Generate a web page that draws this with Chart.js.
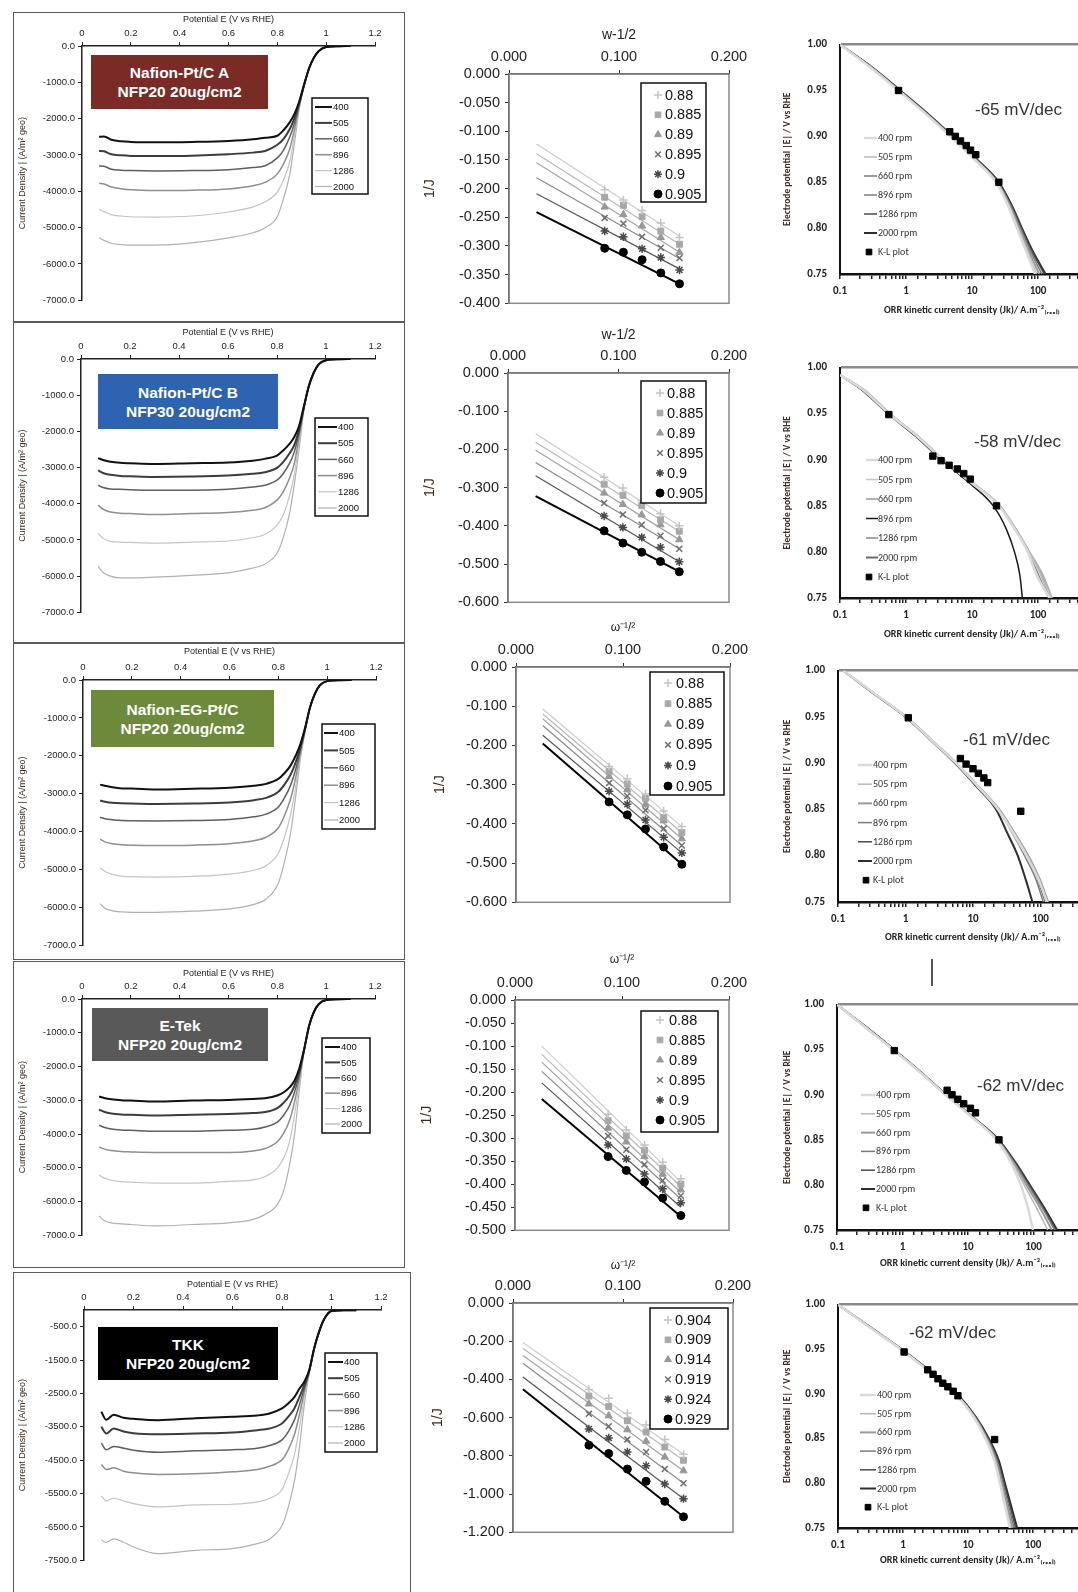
<!DOCTYPE html>
<html>
<head>
<meta charset="utf-8">
<title>ORR rotating disk analysis</title>
<script src="https://cdn.jsdelivr.net/npm/chart.js@4.4.1/dist/chart.umd.min.js"></script>
<style>
  html, body { margin: 0; padding: 0; background: #fff; }
  body { position: relative; width: 1078px; height: 1592px; overflow: hidden; font-family: "Liberation Sans", Arial, sans-serif; }
  canvas { position: absolute; }
  .frame { position: absolute; border: 1.5px solid #5a5a5a; box-sizing: border-box; }
  .tag { position: absolute; color: #fff; font-weight: bold; font-size: 15.5px; line-height: 19px; text-align: center;
         display: flex; flex-direction: column; justify-content: center; }
  .slope { position: absolute; font-size: 17px; color: #333; white-space: nowrap; line-height: 20px; }
</style>
</head>
<body>
<div class="frame" style="left:13px;top:12px;width:392px;height:311px"></div>
<div class="frame" style="left:13px;top:321px;width:392px;height:322px"></div>
<div class="frame" style="left:13px;top:643px;width:392px;height:317px"></div>
<div class="frame" style="left:13px;top:961px;width:392px;height:307px"></div>
<div class="frame" style="left:13px;top:1272px;width:398px;height:340px"></div>

<div class="tag" style="left:91px;top:55px;width:177px;height:54px;background:#7a2b25">Nafion-Pt/C A<br>NFP20 20ug/cm2</div>
<div class="tag" style="left:98px;top:374px;width:180px;height:55px;background:#2e63b1">Nafion-Pt/C B<br>NFP30 20ug/cm2</div>
<div class="tag" style="left:91px;top:690px;width:183px;height:57px;background:#6c8a3a">Nafion-EG-Pt/C<br>NFP20 20ug/cm2</div>
<div class="tag" style="left:92px;top:1008px;width:176px;height:53px;background:#595959">E-Tek<br>NFP20 20ug/cm2</div>
<div class="tag" style="left:98px;top:1327px;width:180px;height:53px;background:#000">TKK<br>NFP20 20ug/cm2</div>

<div style="position:absolute;left:931px;top:959px;width:1.5px;height:27px;background:#555"></div>

<script>
// rotation rates (rpm)
const RPM = [400, 505, 660, 896, 1286, 2000];

// ---- linear sweep voltammetry, current density (A/m2 geo) vs potential (V vs RHE)
const LSV_E = [0.07, 0.09, 0.12, 0.16, 0.2, 0.3, 0.45, 0.6, 0.7, 0.75, 0.8, 0.825, 0.85, 0.87, 0.89, 0.91, 0.93, 0.95, 0.97, 1.0, 1.05, 1.1];
const LSV_A = [
  [-2500, -2490, -2580, -2625, -2640, -2650, -2640, -2615, -2570, -2525, -2470, -2320, -2110, -1870, -1520, -1050, -620, -320, -140, -25, -5, -3],
  [-2890, -2900, -2980, -3010, -3025, -3030, -3020, -2980, -2935, -2890, -2720, -2560, -2300, -1990, -1560, -1060, -615, -318, -138, -25, -5, -3],
  [-3300, -3310, -3390, -3420, -3430, -3440, -3430, -3405, -3345, -3295, -3080, -2870, -2520, -2130, -1600, -1070, -610, -316, -137, -25, -5, -3],
  [-3780, -3800, -3880, -3930, -3960, -3980, -3970, -3935, -3845, -3755, -3520, -3250, -2850, -2300, -1640, -1080, -605, -314, -136, -25, -5, -3],
  [-4500, -4560, -4640, -4680, -4700, -4710, -4680, -4570, -4430, -4290, -4020, -3690, -3200, -2480, -1680, -1090, -600, -312, -135, -25, -5, -3],
  [-5280, -5350, -5430, -5470, -5480, -5480, -5420, -5280, -5140, -5000, -4700, -4200, -3560, -2680, -1720, -1100, -595, -310, -134, -25, -5, -3]
];
const LSV_B = [
  [-2740, -2790, -2840, -2870, -2880, -2900, -2880, -2860, -2810, -2760, -2670, -2530, -2350, -2160, -1850, -1300, -750, -380, -150, -35, -5, -3],
  [-3080, -3150, -3200, -3230, -3240, -3260, -3250, -3220, -3170, -3130, -3010, -2850, -2620, -2390, -1950, -1320, -748, -378, -149, -35, -5, -3],
  [-3490, -3550, -3590, -3600, -3610, -3630, -3630, -3600, -3540, -3490, -3350, -3170, -2900, -2580, -2040, -1340, -745, -376, -148, -35, -5, -3],
  [-4040, -4150, -4230, -4260, -4270, -4300, -4270, -4240, -4180, -4110, -3900, -3680, -3310, -2900, -2160, -1360, -742, -374, -147, -35, -5, -3],
  [-4820, -4950, -5040, -5060, -5070, -5090, -5060, -5030, -4940, -4850, -4590, -4310, -3810, -3220, -2300, -1380, -740, -372, -146, -35, -5, -3],
  [-5730, -5900, -6000, -6050, -6050, -6030, -5980, -5910, -5780, -5670, -5370, -4950, -4310, -3490, -2500, -1400, -738, -370, -145, -35, -5, -3]
];
const LSV_EG = [
  [-2760, -2790, -2830, -2860, -2865, -2890, -2870, -2840, -2790, -2740, -2610, -2460, -2260, -2010, -1700, -1250, -720, -360, -140, -30, -5, -3],
  [-3180, -3210, -3240, -3255, -3260, -3270, -3260, -3230, -3170, -3110, -2950, -2760, -2500, -2190, -1780, -1270, -718, -358, -139, -30, -5, -3],
  [-3620, -3660, -3690, -3710, -3715, -3720, -3710, -3680, -3610, -3540, -3350, -3110, -2780, -2380, -1850, -1290, -716, -356, -138, -30, -5, -3],
  [-4200, -4270, -4320, -4350, -4360, -4370, -4360, -4320, -4240, -4150, -3900, -3580, -3140, -2600, -1930, -1310, -714, -354, -137, -30, -5, -3],
  [-4950, -5050, -5130, -5180, -5190, -5200, -5180, -5120, -5020, -4900, -4570, -4150, -3560, -2850, -2010, -1330, -712, -352, -136, -30, -5, -3],
  [-5900, -6020, -6090, -6120, -6130, -6130, -6100, -6040, -5920, -5780, -5360, -4800, -4050, -3130, -2100, -1350, -710, -350, -135, -30, -5, -3]
];
const LSV_ETEK = [
  [-2890, -2930, -2970, -3000, -3010, -3040, -3010, -2990, -2960, -2940, -2860, -2770, -2620, -2420, -2050, -1480, -800, -380, -150, -30, -5, -3],
  [-3280, -3340, -3390, -3420, -3430, -3450, -3430, -3410, -3380, -3350, -3230, -3080, -2860, -2570, -2150, -1490, -798, -378, -149, -30, -5, -3],
  [-3740, -3800, -3850, -3880, -3890, -3920, -3920, -3890, -3860, -3790, -3650, -3450, -3160, -2770, -2250, -1500, -796, -376, -148, -30, -5, -3],
  [-4380, -4440, -4490, -4520, -4530, -4545, -4545, -4545, -4500, -4430, -4230, -3990, -3600, -3060, -2350, -1510, -794, -374, -147, -30, -5, -3],
  [-5210, -5300, -5370, -5410, -5425, -5455, -5455, -5400, -5360, -5260, -5010, -4720, -4230, -3450, -2500, -1520, -792, -372, -146, -30, -5, -3],
  [-6430, -6560, -6630, -6660, -6680, -6720, -6680, -6630, -6530, -6380, -6090, -5700, -4920, -4040, -2700, -1530, -790, -370, -145, -30, -5, -3]
];
const LSV_TKK = [
  [-3050, -3290, -3140, -3230, -3260, -3300, -3240, -3200, -3160, -3100, -2950, -2800, -2610, -2360, -2150, -1800, -1150, -650, -280, -30, -10, -10],
  [-3500, -3700, -3550, -3640, -3690, -3720, -3700, -3670, -3600, -3550, -3400, -3200, -2950, -2610, -2250, -1820, -1148, -648, -279, -30, -10, -10],
  [-3990, -4190, -4090, -4140, -4200, -4260, -4220, -4190, -4140, -4060, -3890, -3650, -3300, -2850, -2350, -1840, -1146, -646, -278, -30, -10, -10],
  [-4630, -4780, -4730, -4830, -4880, -4930, -4910, -4850, -4780, -4680, -4490, -4190, -3740, -3150, -2450, -1860, -1144, -644, -277, -30, -10, -10],
  [-5570, -5720, -5640, -5720, -5800, -5900, -5840, -5820, -5750, -5640, -5380, -4930, -4340, -3550, -2600, -1880, -1142, -642, -276, -30, -10, -10],
  [-6890, -6960, -6860, -6960, -7100, -7300, -7200, -7150, -7000, -6860, -6460, -5920, -5130, -4140, -2850, -1900, -1140, -640, -275, -30, -10, -10]
];
const TKK_YTICKS = [-500, -1500, -2500, -3500, -4500, -5500, -6500, -7500];

// ---- Koutecky-Levich, 1/J vs w^-1/2
const KL_W = [0.087, 0.104, 0.121, 0.138, 0.155];
const KL_W5 = [0.069, 0.087, 0.104, 0.121, 0.138, 0.155];
const FIT_W = [0.025, 0.155];
const FIT_W5 = [0.009, 0.155];
const KL_POT = ['0.88', '0.885', '0.89', '0.895', '0.9', '0.905'];
const KL_POT5 = ['0.904', '0.909', '0.914', '0.919', '0.924', '0.929'];
const KL_A = [
  [-0.202, -0.220, -0.238, -0.260, -0.285],
  [-0.215, -0.229, -0.249, -0.274, -0.297],
  [-0.232, -0.245, -0.265, -0.285, -0.311],
  [-0.251, -0.261, -0.284, -0.303, -0.321],
  [-0.274, -0.284, -0.305, -0.320, -0.342],
  [-0.304, -0.311, -0.324, -0.347, -0.366]
];
const KL_A_FIT = [[-0.122, -0.283], [-0.139, -0.297], [-0.155, -0.311], [-0.181, -0.322], [-0.209, -0.340], [-0.241, -0.366]];
const KL_B = [
  [-0.273, -0.301, -0.334, -0.368, -0.400],
  [-0.291, -0.320, -0.347, -0.384, -0.414],
  [-0.314, -0.344, -0.371, -0.397, -0.436],
  [-0.340, -0.370, -0.397, -0.426, -0.460],
  [-0.374, -0.404, -0.430, -0.456, -0.494],
  [-0.413, -0.445, -0.469, -0.493, -0.520]
];
const KL_B_FIT = [[-0.159, -0.400], [-0.181, -0.414], [-0.202, -0.436], [-0.234, -0.460], [-0.269, -0.494], [-0.322, -0.520]];
const KL_EG = [
  [-0.254, -0.285, -0.324, -0.367, -0.407],
  [-0.267, -0.298, -0.335, -0.384, -0.422],
  [-0.279, -0.313, -0.350, -0.392, -0.438],
  [-0.296, -0.329, -0.365, -0.412, -0.455],
  [-0.317, -0.350, -0.390, -0.434, -0.474],
  [-0.344, -0.377, -0.413, -0.459, -0.503]
];
const KL_EG_FIT = [[-0.107, -0.407], [-0.120, -0.422], [-0.132, -0.438], [-0.149, -0.455], [-0.174, -0.474], [-0.195, -0.503]];
const KL_ETEK = [
  [-0.248, -0.282, -0.315, -0.352, -0.388],
  [-0.262, -0.295, -0.326, -0.365, -0.400],
  [-0.278, -0.308, -0.340, -0.378, -0.412],
  [-0.295, -0.325, -0.357, -0.392, -0.425],
  [-0.315, -0.345, -0.378, -0.410, -0.440],
  [-0.340, -0.370, -0.395, -0.430, -0.468]
];
const KL_ETEK_FIT = [[-0.100, -0.395], [-0.118, -0.405], [-0.135, -0.418], [-0.155, -0.432], [-0.180, -0.450], [-0.215, -0.470]];
const KL_TKK = [
  [-0.453, -0.499, -0.577, -0.637, -0.714, -0.792],
  [-0.487, -0.542, -0.616, -0.675, -0.754, -0.823],
  [-0.528, -0.590, -0.663, -0.723, -0.806, -0.878],
  [-0.580, -0.645, -0.714, -0.780, -0.869, -0.943],
  [-0.659, -0.706, -0.780, -0.852, -0.947, -1.024],
  [-0.744, -0.788, -0.869, -0.933, -1.038, -1.119]
];
const KL_TKK_FIT = [[-0.207, -0.792], [-0.238, -0.823], [-0.275, -0.878], [-0.315, -0.943], [-0.387, -1.024], [-0.451, -1.119]];

// ---- Tafel: potential vs kinetic current density Jk (A/m2 real)
const TAF_E = [1.0, 0.975, 0.95, 0.925, 0.9, 0.875, 0.85, 0.825, 0.8, 0.775, 0.75];
const TAF_E_B = [0.992, 0.975, 0.95, 0.925, 0.9, 0.875, 0.85, 0.825, 0.8, 0.775, 0.75];
const TAF_A = [
  [0.1, 0.29, 0.76, 1.95, 4.7, 10.8, 23, 35, 48, 66, 90],
  [0.1, 0.29, 0.77, 1.97, 4.75, 11, 23.5, 36, 50, 69, 95],
  [0.1, 0.3, 0.78, 2.0, 4.8, 11.2, 24, 37, 52, 73, 104],
  [0.1, 0.3, 0.8, 2.05, 4.9, 11.4, 24.5, 38, 54, 77, 114],
  [0.1, 0.31, 0.81, 2.1, 5.0, 11.6, 25, 39.5, 56, 81, 124],
  [0.1, 0.31, 0.82, 2.12, 5.1, 11.8, 25.5, 40, 57, 83, 130]
];
const TAF_B = [
  [0.1, 0.23, 0.55, 1.5, 3.6, 9.8, 25.5, 44, 70, 95, 150],
  [0.1, 0.23, 0.56, 1.52, 3.65, 10, 26, 45, 72, 110, 158],
  [0.1, 0.24, 0.57, 1.55, 3.7, 10.2, 26.5, 46, 74, 118, 163],
  [0.1, 0.22, 0.53, 1.42, 3.4, 9.0, 21, 33, 44, 53, 58],
  [0.1, 0.23, 0.55, 1.5, 3.62, 9.9, 25.8, 44.5, 71, 102, 145],
  [0.1, 0.23, 0.56, 1.53, 3.68, 10.1, 26.2, 45.5, 73, 112, 155]
];
const TAF_EG = [
  [0.12, 0.35, 1.02, 2.4, 5.6, 11.7, 23.5, 39, 62, 92, 125],
  [0.12, 0.35, 1.02, 2.42, 5.65, 11.8, 24, 40, 64, 95, 120],
  [0.12, 0.35, 1.03, 2.45, 5.7, 12, 24.5, 41, 66, 97, 130],
  [0.12, 0.35, 1.02, 2.4, 5.6, 11.8, 23.5, 38, 58, 85, 110],
  [0.12, 0.35, 1.02, 2.42, 5.65, 11.9, 24, 39.5, 61, 90, 118],
  [0.12, 0.34, 1.0, 2.35, 5.4, 11.2, 22, 32, 46, 60, 76]
];
const TAF_ETEK = [
  [0.1, 0.27, 0.72, 1.85, 4.5, 11.5, 27, 45, 64, 82, 98],
  [0.1, 0.27, 0.72, 1.85, 4.5, 11.5, 27.5, 47, 72, 110, 165],
  [0.1, 0.27, 0.73, 1.87, 4.55, 11.6, 28, 49, 78, 125, 190],
  [0.1, 0.28, 0.74, 1.9, 4.6, 11.8, 28.5, 50, 82, 135, 210],
  [0.1, 0.28, 0.74, 1.9, 4.62, 11.9, 29, 52, 86, 140, 220],
  [0.1, 0.28, 0.75, 1.92, 4.65, 12, 29.5, 53, 88, 145, 230]
];
const TAF_TKK = [
  [0.1, 0.3, 0.92, 2.5, 6.3, 12.0, 18.5, 25.5, 31, 37, 44],
  [0.1, 0.3, 0.93, 2.55, 6.4, 12.2, 19, 26, 32, 38, 46],
  [0.1, 0.31, 0.94, 2.6, 6.5, 12.4, 19.5, 27, 33, 40, 48],
  [0.1, 0.31, 0.95, 2.62, 6.6, 12.6, 20, 28, 34.5, 42, 51],
  [0.1, 0.31, 0.95, 2.65, 6.7, 12.8, 20.5, 29, 36, 44, 54],
  [0.1, 0.31, 0.96, 2.68, 6.8, 13.0, 21, 30, 37, 46, 57]
];
// K-L derived kinetic points
const KLP_A_J = [0.77, 4.6, 5.6, 6.7, 8.2, 9.5, 11.4, 25.5];
const KLP_A_E = [0.95, 0.905, 0.9, 0.895, 0.89, 0.885, 0.88, 0.85];
const KLP_B_J = [0.55, 2.55, 3.4, 4.5, 6.0, 7.5, 9.4, 23.5];
const KLP_B_E = [0.949, 0.904, 0.899, 0.894, 0.89, 0.885, 0.879, 0.85];
const KLP_EG_J = [1.1, 6.5, 7.9, 10, 12, 14.5, 16.5, 51];
const KLP_EG_E = [0.949, 0.905, 0.899, 0.894, 0.889, 0.884, 0.879, 0.848];
const KLP_ETEK_J = [0.75, 4.8, 5.7, 7.0, 8.6, 10.9, 13, 29.7];
const KLP_ETEK_E = [0.949, 0.905, 0.9, 0.895, 0.89, 0.885, 0.88, 0.85];
const KLP_TKK_J = [1.04, 2.4, 2.9, 3.45, 4.1, 4.9, 5.9, 7.0, 25.7];
const KLP_TKK_E = [0.947, 0.927, 0.922, 0.917, 0.912, 0.908, 0.903, 0.898, 0.849];
const SLOPES = ['-65 mV/dec', '-58 mV/dec', '-61 mV/dec', '-62 mV/dec', '-62 mV/dec'];

// ---------------------------------------------------------------
const SANS = '"Liberation Sans", Arial, sans-serif';
const CAL = 'Carlito, Lato, "Liberation Sans", sans-serif';
const TITLE_COL = '#3a2a1e';
Chart.defaults.font.family = SANS;

const LSV_COL = ['#111111', '#3c3c3c', '#5e5e5e', '#8e8e8e', '#c4c4c4', '#b0b0b0'];
const LSV_W = [2, 2, 1.5, 1.5, 1.2, 1.2];
const KL_STYLE = ['cross', 'rect', 'triangle', 'crossRot', 'star', 'circle'];
const KL_COL = ['#c4c4c4', '#a8a8a8', '#989898', '#6e6e6e', '#4a4a4a', '#000000'];
const KL_LINE = ['#cccccc', '#b8b8b8', '#a4a4a4', '#8a8a8a', '#555555', '#000000'];
const KL_LW = [1.2, 1.2, 1.2, 1.2, 1.2, 2];

const drawPt = (Chart.helpers && Chart.helpers.drawPoint) ? Chart.helpers.drawPoint : function (ctx, o, x, y) {
  ctx.beginPath(); ctx.arc(x, y, o.radius, 0, Math.PI * 2); ctx.fill();
};

// legend drawn inside the plot, placed by page coordinates
const boxLegend = {
  id: 'boxLegend',
  afterDraw(chart, args, o) {
    if (!o || !o.rowH) return;
    const ctx = chart.ctx;
    const sets = chart.data.datasets.filter(d => d.inBox);
    ctx.save();
    if (o.border) {
      ctx.fillStyle = '#fff';
      ctx.fillRect(o.x, o.y, o.w, o.h);
      ctx.lineWidth = o.border;
      ctx.strokeStyle = '#111';
      ctx.strokeRect(o.x, o.y, o.w, o.h);
    }
    sets.forEach((d, i) => {
      const y = o.y0 + i * o.rowH;
      if (d.showLine === false) {
        ctx.fillStyle = d.backgroundColor;
        ctx.strokeStyle = d.borderColor;
        ctx.lineWidth = d.pointBorderWidth || 1;
        drawPt(ctx, {pointStyle: d.pointStyle, radius: o.r, borderWidth: d.pointBorderWidth || 1, rotation: 0}, o.mx, y);
      } else {
        ctx.beginPath();
        ctx.strokeStyle = d.borderColor;
        ctx.lineWidth = d.borderWidth;
        ctx.moveTo(o.sx, y);
        ctx.lineTo(o.sx + o.sw, y);
        ctx.stroke();
      }
      ctx.fillStyle = o.color;
      ctx.font = o.font;
      ctx.textBaseline = 'middle';
      ctx.textAlign = 'left';
      ctx.fillText(d.label, o.tx, y + 0.5);
    });
    ctx.restore();
  }
};
const plotFrame = {
  id: 'plotFrame',
  beforeDatasetsDraw(chart, args, o) {
    if (!o || !o.color) return;
    const a = chart.chartArea, ctx = chart.ctx;
    ctx.save();
    ctx.strokeStyle = o.color;
    ctx.lineWidth = o.width;
    ctx.strokeRect(a.left, a.top, a.right - a.left, a.bottom - a.top);
    ctx.restore();
  }
};
Chart.register(boxLegend, plotFrame);

function addCanvas(box) {
  const c = document.createElement('canvas');
  c.width = box[2]; c.height = box[3];
  c.style.left = box[0] + 'px'; c.style.top = box[1] + 'px';
  c.style.width = box[2] + 'px'; c.style.height = box[3] + 'px';
  document.body.appendChild(c);
  return c;
}
function rel(leg, box) {
  const o = Object.assign({}, leg);
  ['x', 'sx', 'tx', 'mx'].forEach(k => { if (k in o) o[k] -= box[0]; });
  ['y', 'y0'].forEach(k => { if (k in o) o[k] -= box[1]; });
  return o;
}
const baseOpts = {responsive: false, animation: false, devicePixelRatio: 1, events: []};

function lsvPanel(box, area, curves, yMin, yTicks, leg) {
  const [cx, cy, cw, ch] = box, [L, T, R, B] = area;
  const datasets = RPM.map((r, i) => ({
    label: String(r), inBox: true,
    data: LSV_E.map((e, j) => ({x: e, y: curves[i][j]})),
    borderColor: LSV_COL[i], borderWidth: LSV_W[i], pointRadius: 0,
    cubicInterpolationMode: 'monotone', fill: false
  }));
  new Chart(addCanvas(box), {
    type: 'line',
    data: {datasets},
    options: Object.assign({}, baseOpts, {
      layout: {padding: {left: 0, top: 0, right: cx + cw - R, bottom: cy + ch - B}},
      scales: {
        x: {type: 'linear', position: 'top', min: 0, max: 1.2,
            afterFit: s => { s.height = T - cy; },
            grid: {drawOnChartArea: false, tickLength: 4, color: '#222'},
            border: {color: '#222', width: 1.5},
            ticks: {stepSize: 0.2, padding: 3, color: '#222', maxRotation: 0, autoSkip: false,
                    font: {size: 9.5}, callback: v => String(+v.toFixed(1))},
            title: {display: true, text: 'Potential E (V vs RHE)', color: '#222', font: {size: 9}, padding: {top: 4, bottom: 2}}},
        y: {min: yMin, max: 0,
            afterFit: s => { s.width = L - cx; },
            afterBuildTicks: yTicks ? (s => { s.ticks = yTicks.map(v => ({value: v})); }) : undefined,
            grid: {drawOnChartArea: false, tickLength: 4, color: '#222'},
            border: {color: '#222', width: 1.5},
            ticks: {stepSize: 1000, padding: 3, color: '#222', autoSkip: false, font: {size: 9.5},
                    callback: v => v.toFixed(1)},
            title: {display: true, text: 'Current Density | (A/m² geo)', color: TITLE_COL, font: {size: 9}, padding: {top: 4, bottom: 4}}}
      },
      plugins: {legend: {display: false}, tooltip: {enabled: false},
        boxLegend: rel(Object.assign({border: 1.5, font: '9.5px ' + SANS, color: '#111'}, leg), box)}
    })
  });
}

function klPanel(box, area, w, pots, pts, fitW, fits, yMin, yStep, xTitle, xTitleSize, leg) {
  const [cx, cy, cw, ch] = box, [L, T, R, B] = area;
  const datasets = [];
  pots.forEach((p, i) => {
    datasets.push({
      label: p, inBox: true, showLine: false,
      data: w.map((x, j) => ({x, y: pts[i][j]})),
      pointStyle: KL_STYLE[i], pointRadius: i === 5 ? 4 : 4.2,
      pointBorderWidth: (i === 0 || i === 3 || i === 4) ? 1.5 : 1,
      borderColor: KL_COL[i], backgroundColor: KL_COL[i]
    });
  });
  pots.forEach((p, i) => {
    datasets.push({
      label: p + ' fit', showLine: true, pointRadius: 0,
      data: fitW.map((x, j) => ({x, y: fits[i][j]})),
      borderColor: KL_LINE[i], borderWidth: KL_LW[i]
    });
  });
  new Chart(addCanvas(box), {
    type: 'scatter',
    data: {datasets},
    options: Object.assign({}, baseOpts, {
      layout: {padding: {left: 0, top: 0, right: cx + cw - R, bottom: cy + ch - B}},
      scales: {
        x: {type: 'linear', position: 'top', min: 0, max: 0.2,
            afterFit: s => { s.height = T - cy; },
            grid: {drawOnChartArea: false, tickLength: 4, color: '#333'},
            border: {color: '#333', width: 1.5},
            ticks: {stepSize: 0.1, padding: 4, color: '#222', maxRotation: 0, font: {size: 14.5},
                    callback: v => (Math.abs(v) < 1e-9 ? 0 : v).toFixed(3)},
            title: {display: true, text: xTitle, color: '#222', font: {size: xTitleSize}, padding: {top: 4, bottom: 2}}},
        y: {min: yMin, max: 0,
            afterFit: s => { s.width = L - cx; },
            grid: {drawOnChartArea: false, tickLength: 4, color: '#333'},
            border: {color: '#333', width: 1.5},
            ticks: {stepSize: yStep, padding: 5, color: '#222', autoSkip: false, font: {size: 14.5},
                    callback: v => (Math.abs(v) < 1e-9 ? 0 : v).toFixed(3)},
            title: {display: true, text: '1/J', color: TITLE_COL, font: {size: 14}, padding: {top: 4, bottom: 4}}}
      },
      plugins: {legend: {display: false}, tooltip: {enabled: false},
        plotFrame: {color: '#8a8a8a', width: 1.5},
        boxLegend: rel(Object.assign({border: 1.5, r: 4, font: '14.5px ' + SANS, color: '#111'}, leg), box)}
    })
  });
}

const TAF_COL = ['#dadada', '#b8b8b8', '#9a9a9a', '#7a7a7a', '#4a4a4a', '#2e2e2e'];
const TAF_W = [2.5, 1.5, 2, 1.5, 1.5, 2];

function tafelPanel(box, area, E, curves, kJ, kE, colors, leg) {
  const [cx, cy, cw, ch] = box, [L, T, R, B] = area;
  const datasets = RPM.map((r, i) => ({
    label: r + ' rpm', inBox: true, showLine: true, pointRadius: 0,
    data: E.map((e, j) => ({x: curves[i][j], y: e})),
    borderColor: colors[i], borderWidth: TAF_W[i], cubicInterpolationMode: 'monotone'
  }));
  datasets.push({
    label: 'K-L plot', inBox: true, showLine: false, order: -1,
    data: kJ.map((j, i) => ({x: j, y: kE[i]})),
    pointStyle: 'rect', pointRadius: 4.5, backgroundColor: '#000', borderColor: '#000', pointBorderWidth: 1
  });
  new Chart(addCanvas(box), {
    type: 'scatter',
    data: {datasets},
    options: Object.assign({}, baseOpts, {
      layout: {padding: {left: 0, top: T - cy, right: cx + cw - R, bottom: 0}},
      scales: {
        x: {type: 'logarithmic', position: 'bottom', min: 0.1, max: 1000,
            afterFit: s => { s.height = cy + ch - B; },
            grid: {drawOnChartArea: false, tickLength: 5, color: '#222', lineWidth: 1.5},
            border: {color: '#111', width: 2.5},
            ticks: {autoSkip: false, maxRotation: 0, padding: 6, color: '#222', font: {size: 11, family: CAL, weight: 'bold'},
                    callback: v => { const l = Math.log10(v); return Math.abs(l - Math.round(l)) < 1e-6 ? String(+v.toPrecision(1)) : ''; }},
            title: {display: true, text: 'ORR kinetic current density (Jk)/ A.m⁻²₍ᵣₑₐₗ₎', color: '#222',
                    font: {size: 10, family: CAL, weight: 'bold'}, padding: {top: 2, bottom: 4}}},
        y: {min: 0.75, max: 1.0,
            afterFit: s => { s.width = L - cx; },
            grid: {drawTicks: false, lineWidth: 2.5,
                   color: c => (c.tick && Math.abs(c.tick.value - 1) < 1e-6) ? '#8a8a8a' : 'rgba(0,0,0,0)'},
            border: {color: '#111', width: 2},
            ticks: {stepSize: 0.05, padding: 13, color: '#222', autoSkip: false, font: {size: 11, family: CAL, weight: 'bold'},
                    callback: v => v.toFixed(2)},
            title: {display: true, text: 'Electrode potential |E| / V vs RHE', color: TITLE_COL,
                    font: {size: 9.5, family: CAL, weight: 'bold'}, padding: {top: 4, bottom: 4}}}
      },
      plugins: {legend: {display: false}, tooltip: {enabled: false},
        boxLegend: rel(Object.assign({border: 0, r: 4, font: '10px ' + CAL, color: '#333'}, leg), box)}
    })
  });
}

// ---- left column: LSV
lsvPanel([13, 10, 382, 299], [82, 46, 375, 303], LSV_A, -7000, null,
  {x: 312, y: 98, w: 56, h: 96, y0: 107, rowH: 15.9, sx: 315, sw: 17, tx: 333});
lsvPanel([13, 323, 382, 298], [81, 359, 375, 615], LSV_B, -7000, null,
  {x: 315, y: 418, w: 53, h: 98, y0: 427, rowH: 16.2, sx: 318, sw: 19, tx: 338});
lsvPanel([13, 642, 383, 312], [83, 680, 376, 948], LSV_EG, -7000, null,
  {x: 322, y: 724, w: 53, h: 105, y0: 733, rowH: 17.4, sx: 324, sw: 14, tx: 339});
lsvPanel([13, 964, 382, 280], [82, 999, 375, 1238], LSV_ETEK, -7000, null,
  {x: 322, y: 1038, w: 48, h: 95, y0: 1047, rowH: 15.4, sx: 325, sw: 15, tx: 341});
lsvPanel([13, 1275, 388, 294], [84, 1310, 381, 1563], LSV_TKK, -7500, TKK_YTICKS,
  {x: 325, y: 1353, w: 52, h: 99, y0: 1362, rowH: 16.2, sx: 328, sw: 15, tx: 344});

// ---- middle column: Koutecky-Levich
klPanel([418, 23, 337, 294], [509, 74, 729, 307], KL_W, KL_POT, KL_A, FIT_W, KL_A_FIT, -0.4, 0.05, 'w-1/2', 14,
  {x: 641, y: 83, w: 65, h: 119, y0: 95, rowH: 19.8, mx: 658, tx: 665});
klPanel([418, 323, 337, 293], [508, 373, 729, 606], KL_W, KL_POT, KL_B, FIT_W, KL_B_FIT, -0.6, 0.1, 'w-1/2', 14,
  {x: 641, y: 381, w: 65, h: 122, y0: 393, rowH: 20, mx: 660, tx: 667});
klPanel([428, 616, 328, 300], [516, 667, 730, 906], KL_W, KL_POT, KL_EG, FIT_W, KL_EG_FIT, -0.6, 0.1, 'ω⁻¹/²', 12,
  {x: 650, y: 672, w: 74, h: 123, y0: 683, rowH: 20.6, mx: 668, tx: 676});
klPanel([415, 948, 340, 296], [515, 1000, 729, 1234], KL_W, KL_POT, KL_ETEK, FIT_W, KL_ETEK_FIT, -0.5, 0.05, 'ω⁻¹/²', 12,
  {x: 641, y: 1011, w: 77, h: 121, y0: 1020, rowH: 20, mx: 660, tx: 669});
klPanel([426, 1254, 333, 292], [513, 1303, 733, 1536], KL_W5, KL_POT5, KL_TKK, FIT_W5, KL_TKK_FIT, -1.2, 0.2, 'ω⁻¹/²', 12,
  {x: 650, y: 1308, w: 78, h: 121, y0: 1320, rowH: 19.8, mx: 668, tx: 675});

// ---- right column: Tafel
const TAF_COL_B = ['#dadada', '#c4c4c4', '#b0b0b0', '#1a1a1a', '#8a8a8a', '#6a6a6a'];
tafelPanel([778, 25, 352, 295], [840, 37, 1104, 274], TAF_E, TAF_A, KLP_A_J, KLP_A_E, TAF_COL,
  {y0: 138, rowH: 19, sx: 864, sw: 13, tx: 878, mx: 869});
tafelPanel([778, 348, 352, 296], [840, 360, 1104, 598], TAF_E_B, TAF_B, KLP_B_J, KLP_B_E, TAF_COL_B,
  {y0: 460, rowH: 19.5, sx: 866, sw: 12, tx: 878, mx: 869});
tafelPanel([778, 651, 352, 296], [838, 663, 1108, 902], TAF_E, TAF_EG, KLP_EG_J, KLP_EG_E, TAF_COL,
  {y0: 765, rowH: 19.2, sx: 858, sw: 14, tx: 873, mx: 866});
tafelPanel([778, 985, 352, 288], [837, 997, 1099, 1230], TAF_E, TAF_ETEK, KLP_ETEK_J, KLP_ETEK_E, TAF_COL,
  {y0: 1095, rowH: 18.8, sx: 861, sw: 14, tx: 876, mx: 866});
tafelPanel([778, 1285, 352, 285], [838, 1297, 1098, 1528], TAF_E, TAF_TKK, KLP_TKK_J, KLP_TKK_E, TAF_COL,
  {y0: 1395, rowH: 18.7, sx: 860, sw: 16, tx: 877, mx: 868});

// slope annotations
[[975, 100], [974, 432], [963, 730], [977, 1076], [909, 1323]].forEach((p, i) => {
  const d = document.createElement('div');
  d.className = 'slope';
  d.style.left = p[0] + 'px'; d.style.top = p[1] + 'px';
  d.textContent = SLOPES[i];
  document.body.appendChild(d);
});
</script>
</body>
</html>
